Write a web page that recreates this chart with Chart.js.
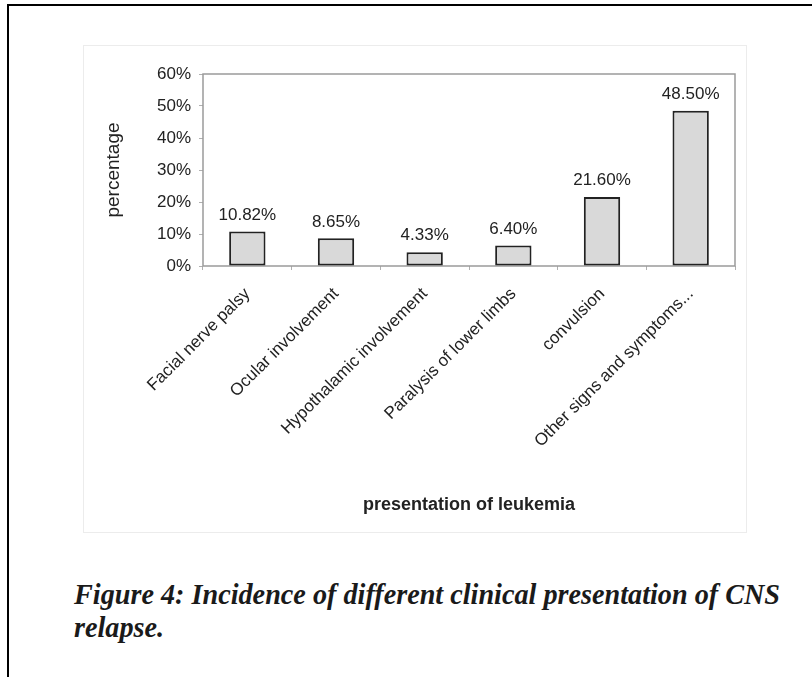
<!DOCTYPE html>
<html>
<head>
<meta charset="utf-8">
<script src="https://cdn.jsdelivr.net/npm/chart.js@4.4.1/dist/chart.umd.min.js"></script>
<style>
  html, body { margin: 0; padding: 0; background: #fff; }
  body { width: 812px; height: 677px; position: relative; overflow: hidden; }
  .frameTop { position: absolute; left: 7px; top: 4px; width: 805px; height: 2px; background: #000; }
  .frameLeft { position: absolute; left: 7px; top: 4px; width: 2px; height: 673px; background: #000; }
  .chartBox { position: absolute; left: 83px; top: 45px; width: 664px; height: 488px;
              border: 1px solid #ececec; box-sizing: border-box; }
  .chartBox canvas { position: absolute; left: 0; top: 0; }
  .caption { position: absolute; left: 74px; top: 577px; width: 780px;
             font-family: "Liberation Serif", "Times New Roman", serif; font-weight: bold; font-style: italic;
             font-size: 30px; line-height: 33px; color: #1a1a1a;
             transform: scaleX(0.94); transform-origin: 0 0; }
</style>
</head>
<body>
<div class="frameTop"></div>
<div class="frameLeft"></div>
<div class="chartBox"><canvas id="cnsChart" width="664" height="488"></canvas></div>
<div class="caption">Figure 4: Incidence of different clinical presentation of CNS<br>relapse.</div>

<script>
// chart data
const categories = [
  'Facial nerve palsy',
  'Ocular involvement',
  'Hypothalamic involvement',
  'Paralysis of lower limbs',
  'convulsion',
  'Other signs and symptoms...'
];
const percentValues = [10.82, 8.65, 4.33, 6.40, 21.60, 48.50];
const yTicks = [0, 10, 20, 30, 40, 50, 60];

// writes the value above each bar
const valueLabels = {
  id: 'valueLabels',
  afterDatasetsDraw(chart) {
    const ctx = chart.ctx;
    const meta = chart.getDatasetMeta(0);
    ctx.save();
    ctx.font = '17px "Liberation Sans", Arial, sans-serif';
    ctx.fillStyle = '#222';
    ctx.textAlign = 'center';
    ctx.textBaseline = 'bottom';
    meta.data.forEach((bar, i) => {
      ctx.fillText(percentValues[i].toFixed(2) + '%', bar.x, bar.y - 8);
    });
    ctx.restore();
  }
};

// grey box round the plot area
const plotFrame = {
  id: 'plotFrame',
  beforeDatasetsDraw(chart) {
    const a = chart.chartArea;
    const ctx = chart.ctx;
    ctx.save();
    ctx.strokeStyle = '#9a9a9a';
    ctx.lineWidth = 1.5;
    ctx.strokeRect(a.left, a.top, a.right - a.left, a.bottom - a.top);
    ctx.restore();
  }
};

const ctx = document.getElementById('cnsChart').getContext('2d');

new Chart(ctx, {
  type: 'bar',
  data: {
    labels: categories,
    datasets: [{
      data: percentValues,
      backgroundColor: '#d9d9d9',
      borderColor: '#222',
      borderWidth: 2,
      borderSkipped: false,
      categoryPercentage: 1,
      barPercentage: 0.41
    }]
  },
  options: {
    responsive: false,
    animation: false,
    layout: { padding: { top: 28, right: 13, left: 0, bottom: 0 } },
    plugins: {
      legend: { display: false },
      tooltip: { enabled: false }
    },
    scales: {
      x: {
        afterFit(scale) { scale.height = 268; },
        grid: { drawOnChartArea: false, offset: true, tickLength: 4, color: '#b0b0b0' },
        border: { display: false },
        ticks: {
          minRotation: 45,
          maxRotation: 45,
          padding: 14,
          color: '#222',
          font: { family: '"Liberation Sans", Arial, sans-serif', size: 17 }
        },
        title: {
          display: true,
          text: 'presentation of leukemia',
          color: '#222',
          padding: { top: 0, bottom: 18 },
          font: { family: '"Liberation Sans", Arial, sans-serif', size: 18, weight: 'bold' }
        }
      },
      y: {
        min: 0,
        max: 60,
        afterFit(scale) { scale.width = 119; },
        afterBuildTicks(scale) { scale.ticks = yTicks.map(v => ({ value: v })); },
        grid: { drawOnChartArea: false, tickLength: 4, color: '#b0b0b0' },
        border: { display: false },
        ticks: {
          padding: 8,
          color: '#222',
          font: { family: '"Liberation Sans", Arial, sans-serif', size: 17 },
          callback: v => v + '%'
        },
        title: {
          display: true,
          text: 'percentage',
          color: '#222',
          padding: { top: 18, bottom: 0 },
          font: { family: '"Liberation Sans", Arial, sans-serif', size: 19 }
        }
      }
    }
  },
  plugins: [valueLabels, plotFrame]
});
</script>
</body>
</html>
